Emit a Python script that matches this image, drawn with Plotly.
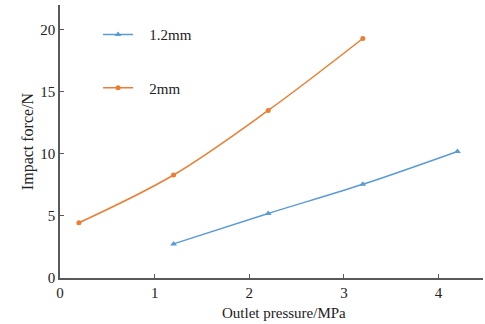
import plotly.graph_objects as go

x_12 = [1.2, 2.2, 3.2, 4.2]
y_12 = [2.75, 5.2, 7.55, 10.2]
x_2 = [0.2, 1.2, 2.2, 3.2]
y_2 = [4.45, 8.3, 13.5, 19.3]
x_ticks = [0, 1, 2, 3, 4]
y_ticks = [0, 5, 10, 15, 20]

font = "Liberation Serif"
NB = "\u00a0\u00a0\u00a0"

fig = go.Figure()
fig.add_trace(go.Scatter(x=x_12, y=y_12, mode="lines+markers", name=NB + "1.2mm",
                         line=dict(color="#5B9BD5", width=1.5, shape="spline"),
                         marker=dict(symbol="triangle-up", size=6, color="#5B9BD5"),
                         legend="legend"))
fig.add_trace(go.Scatter(x=x_2, y=y_2, mode="lines+markers", name=NB + "2mm",
                         line=dict(color="#ED7D31", width=1.5, shape="spline"),
                         marker=dict(symbol="circle", size=5, color="#ED7D31"),
                         legend="legend2"))

axis_common = dict(showline=True, linecolor="#595959", linewidth=1.5,
                   ticks="inside", ticklen=4, tickcolor="#595959", tickwidth=1,
                   showgrid=False, zeroline=False, mirror=False,
                   tickfont=dict(family=font, size=15, color="#222"),
                   title_font=dict(family=font, size=16, color="#222"))

fig.update_layout(
    width=485, height=324,
    margin=dict(l=60, r=2, t=5, b=46),
    paper_bgcolor="white", plot_bgcolor="white",
    font=dict(family=font),
    xaxis=dict(range=[0, 4.47], tickvals=x_ticks, **axis_common),
    yaxis=dict(range=[0, 22], tickvals=y_ticks, title=dict(text="Impact force/N", standoff=3), **axis_common),
    legend=dict(x=0.09, y=0.891, xanchor="left", yanchor="middle", bgcolor="rgba(0,0,0,0)",
                font=dict(family=font, size=15, color="#222"), itemwidth=30),
    legend2=dict(x=0.09, y=0.696, xanchor="left", yanchor="middle", bgcolor="rgba(0,0,0,0)",
                 font=dict(family=font, size=15, color="#222"), itemwidth=30),
    showlegend=True,
    annotations=[dict(text="Outlet pressure/MPa", xref="paper", yref="paper",
                      x=0.53, y=0, xanchor="center", yanchor="middle", yshift=-35,
                      showarrow=False, font=dict(family=font, size=15, color="#222"))],
)

fig.write_html("out.html")
